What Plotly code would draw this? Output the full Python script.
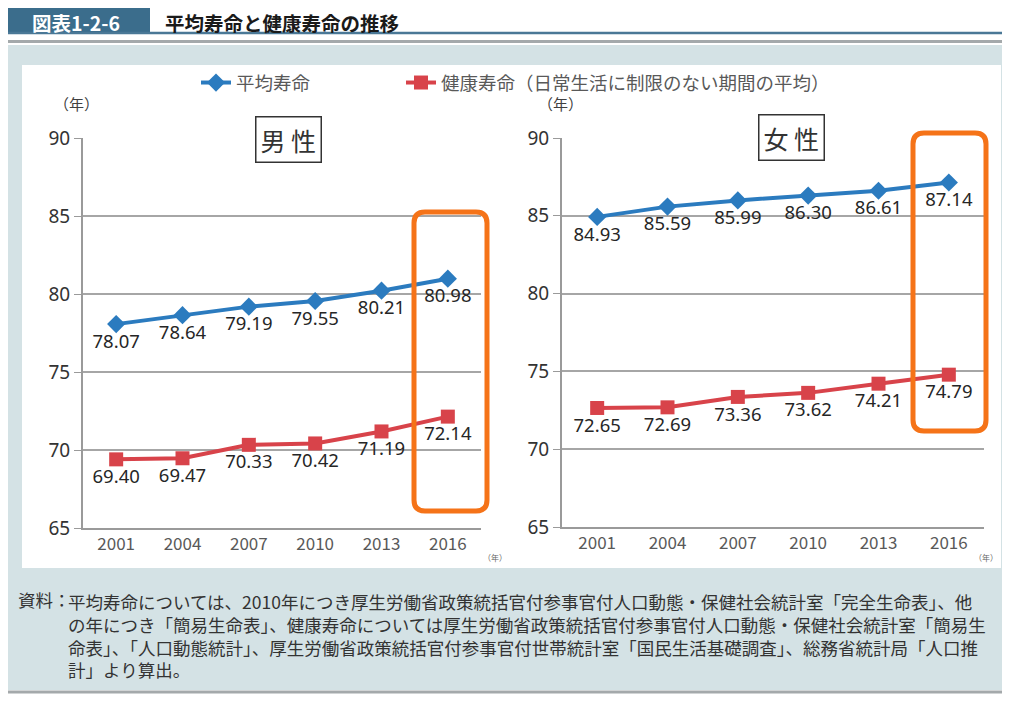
import plotly.graph_objects as go

years = ["2001", "2004", "2007", "2010", "2013", "2016"]
male_life = [78.07, 78.64, 79.19, 79.55, 80.21, 80.98]
male_healthy = [69.40, 69.47, 70.33, 70.42, 71.19, 72.14]
female_life = [84.93, 85.59, 85.99, 86.30, 86.61, 87.14]
female_healthy = [72.65, 72.69, 73.36, 73.62, 74.21, 74.79]

# page has an 8px body margin, so the figure is a bit smaller than the window
W, H = 1002, 694
OFF = 8
BLUE = "#2b7bbf"
RED = "#d8434a"
ORANGE = "#f57318"
JP = "Noto Sans CJK JP"

notes = [
    "平均寿命については、2010年につき厚生労働省政策統括官付参事官付人口動態・保健社会統計室「完全生命表」、他",
    "の年につき「簡易生命表」、健康寿命については厚生労働省政策統括官付参事官付人口動態・保健社会統計室「簡易生",
    "命表」、「人口動態統計」、厚生労働省政策統括官付参事官付世帯統計室「国民生活基礎調査」、総務省統計局「人口推",
    "計」より算出。",
]


def px(x):
    return (x - OFF) / W


def py(y):
    return 1 - (y - OFF) / H


def rounded_box(x0, y0, x1, y1, r):
    # pixel corners -> svg path in paper coords
    pts = [
        ("M", [(x0 + r, y0)]),
        ("L", [(x1 - r, y0)]),
        ("Q", [(x1, y0), (x1, y0 + r)]),
        ("L", [(x1, y1 - r)]),
        ("Q", [(x1, y1), (x1 - r, y1)]),
        ("L", [(x0 + r, y1)]),
        ("Q", [(x0, y1), (x0, y1 - r)]),
        ("L", [(x0, y0 + r)]),
        ("Q", [(x0, y0), (x0 + r, y0)]),
    ]
    path = ""
    for cmd, ps in pts:
        path += cmd + " " + " ".join(f"{px(a):.5f},{py(b):.5f}" for a, b in ps) + " "
    return path + "Z"


fig = go.Figure()


def add_panel(life, healthy, xa, ya, show):
    fig.add_trace(go.Scatter(
        x=years, y=life, xaxis=xa, yaxis=ya, name="平均寿命",
        mode="lines+markers+text", text=[f"{v:.2f}" for v in life],
        textposition="bottom center",
        textfont=dict(family="Noto Sans", size=18.5, color="#262626"),
        line=dict(color=BLUE, width=4),
        marker=dict(symbol="diamond", size=14, color=BLUE),
        showlegend=show, legend="legend", cliponaxis=False,
    ))
    fig.add_trace(go.Scatter(
        x=years, y=healthy, xaxis=xa, yaxis=ya,
        name="健康寿命（日常生活に制限のない期間の平均）",
        mode="lines+markers+text", text=[f"{v:.2f}" for v in healthy],
        textposition="bottom center",
        textfont=dict(family="Noto Sans", size=18.5, color="#262626"),
        line=dict(color=RED, width=4),
        marker=dict(symbol="square", size=14, color=RED),
        showlegend=show, legend="legend2", cliponaxis=False,
    ))


add_panel(male_life, male_healthy, "x", "y", True)
add_panel(female_life, female_healthy, "x2", "y2", False)

xax = dict(
    type="category", range=[-0.5, 5.5], showline=True, linecolor="#9a9a9a",
    linewidth=2, ticks="", showgrid=False, zeroline=False, automargin=False,
    tickfont=dict(family=JP, size=17, color="#595959"),
)
yax = dict(
    range=[65, 90], dtick=5, showline=True, linecolor="#9a9a9a", linewidth=2,
    ticks="outside", ticklen=7, tickcolor="#9a9a9a", showgrid=True,
    gridcolor="#a6a6a6", gridwidth=1.5, zeroline=False, automargin=False,
    tickfont=dict(family="Noto Sans", size=19, color="#333333"),
)

fig.update_layout(
    width=W, height=H,
    margin=dict(l=0, r=0, t=0, b=0, autoexpand=False),
    paper_bgcolor="white", plot_bgcolor="rgba(0,0,0,0)",
    xaxis=dict(xax, domain=[px(83), px(481)], anchor="y"),
    yaxis=dict(yax, domain=[py(528), py(138)], anchor="x"),
    xaxis2=dict(xax, domain=[px(562), px(984)], anchor="y2"),
    yaxis2=dict(yax, domain=[py(527), py(138)], anchor="x2"),
    legend=dict(
        orientation="h", x=px(196), y=py(83), xanchor="left", yanchor="middle",
        font=dict(family=JP, size=18.5, color="#595959"), bgcolor="rgba(0,0,0,0)",
    ),
    legend2=dict(
        orientation="h", x=px(401), y=py(83), xanchor="left", yanchor="middle",
        font=dict(family=JP, size=18.5, color="#595959"), bgcolor="rgba(0,0,0,0)",
    ),
)

shapes = [
    # light panel background and white chart area
    dict(type="rect", x0=0, x1=1, y0=py(690), y1=py(45), fillcolor="#d4e2e5", line_width=0, layer="below"),
    dict(type="rect", x0=px(22), x1=px(1001), y0=py(568), y1=py(65), fillcolor="white", line_width=0, layer="below"),
    # header block and rules
    dict(type="rect", x0=0, x1=px(150), y0=py(33), y1=1, fillcolor="#3b6d8c", line_width=0, layer="below"),
    dict(type="line", x0=0, x1=1, y0=py(33), y1=py(33), line=dict(color="#4a7896", width=2.5)),
    dict(type="line", x0=0, x1=1, y0=py(41.5), y1=py(41.5), line=dict(color="#a4a9ab", width=3)),
    dict(type="line", x0=0, x1=1, y0=py(692), y1=py(692), line=dict(color="#a4a9ab", width=3)),
    # orange highlight boxes
    dict(type="path", path=rounded_box(414, 212, 487, 511, 11), line=dict(color=ORANGE, width=5)),
    dict(type="path", path=rounded_box(913, 133, 986, 431, 11), line=dict(color=ORANGE, width=5)),
]
for s in shapes:
    s.setdefault("xref", "paper")
    s.setdefault("yref", "paper")
fig.update_layout(shapes=shapes)

ann = [
    dict(x=px(76), y=py(22), text="<b>図表1-2-6</b>", xanchor="center",
         font=dict(family=JP, size=19.5, color="white")),
    dict(x=px(163), y=py(22), text="<b>平均寿命と健康寿命の推移</b>", xanchor="left",
         font=dict(family=JP, size=19.5, color="#1a1a1a")),
    dict(x=px(76), y=py(104), text="（年）", font=dict(family=JP, size=15, color="#404040")),
    dict(x=px(560), y=py(104), text="（年）", font=dict(family=JP, size=15, color="#404040")),
    dict(x=px(288), y=py(139), text="男 性", bgcolor="white", bordercolor="#333333",
         borderwidth=1.5, borderpad=4, font=dict(family=JP, size=25, color="#333333")),
    dict(x=px(791), y=py(137), text="女 性", bgcolor="white", bordercolor="#333333",
         borderwidth=1.5, borderpad=4, font=dict(family=JP, size=25, color="#333333")),
    dict(x=px(495), y=py(557), text="（年）", font=dict(family=JP, size=8, color="#666666")),
    dict(x=px(986), y=py(557), text="（年）", font=dict(family=JP, size=8, color="#666666")),
    dict(x=px(16), y=py(599), text="資料：", xanchor="left",
         font=dict(family=JP, size=17.5, color="#333333")),
    dict(x=px(66), y=py(587), text="<br>".join(notes), xanchor="left", yanchor="top",
         align="left", font=dict(family=JP, size=17.5, color="#333333")),
]
for a in ann:
    a.update(xref="paper", yref="paper", showarrow=False)
    a.setdefault("yanchor", "middle")
    a.setdefault("xanchor", "center")
fig.update_layout(annotations=ann)

fig.write_html("out.html")
